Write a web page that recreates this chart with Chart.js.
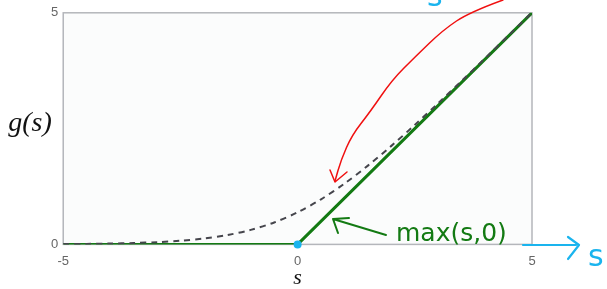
<!DOCTYPE html>
<html>
<head>
<meta charset="utf-8">
<script src="https://cdn.jsdelivr.net/npm/chart.js@4"></script>
<style>
  html, body { margin: 0; padding: 0; background: #fff; }
  #wrap { width: 607px; height: 289px; }
</style>
</head>
<body>
<div id="wrap"><canvas id="c" width="607" height="289"></canvas></div>
<script>
// values
const sValues = [-5, -4.5, -4, -3.5, -3, -2.5, -2, -1.5, -1, -0.5, 0, 0.5, 1, 1.5, 2, 2.5, 3, 3.5, 4, 4.5, 5];
const smoothValues = [0.007, 0.011, 0.018, 0.03, 0.049, 0.079, 0.127, 0.201, 0.313, 0.474, 0.693, 0.974, 1.313, 1.701, 2.127, 2.579, 3.049, 3.53, 4.018, 4.511, 5.007];
const reluS = [-5, -2.5, 0, 5];
const reluValues = [0, 0, 0, 5];
const xTicks = [-5, 0, 5];
const yTicks = [0, 5];

const toPoints = (xs, ys) => xs.map((x, i) => ({ x: x, y: ys[i] }));

// smooth stroke through a list of pixel points
const smoothPath = (ctx, pts) => {
    ctx.beginPath();
    ctx.moveTo(pts[0][0], pts[0][1]);
    for (let i = 1; i < pts.length - 1; i++) {
        const mx = (pts[i][0] + pts[i + 1][0]) / 2;
        const my = (pts[i][1] + pts[i + 1][1]) / 2;
        ctx.quadraticCurveTo(pts[i][0], pts[i][1], mx, my);
    }
    const last = pts[pts.length - 1];
    ctx.lineTo(last[0], last[1]);
    ctx.stroke();
};

// hand drawn notes on top of the plot
const notesPlugin = {
    id: 'notes',
    beforeDatasetsDraw(chart) {
        const { ctx, chartArea: a } = chart;
        ctx.save();
        ctx.fillStyle = '#fbfcfc';
        ctx.fillRect(a.left, a.top, a.right - a.left, a.bottom - a.top);
        ctx.strokeStyle = '#b4b6bb';
        ctx.lineWidth = 1.5;
        ctx.strokeRect(a.left, a.top, a.right - a.left, a.bottom - a.top);
        ctx.restore();
    },
    afterDraw(chart) {
        const { ctx } = chart;
        const xs = chart.scales.x, ys = chart.scales.y;
        ctx.save();

        // axis titles
        ctx.fillStyle = '#111';
        ctx.textAlign = 'center';
        ctx.textBaseline = 'middle';
        ctx.font = 'italic 28px "Liberation Serif", serif';
        ctx.fillText('g(s)', 30, 124);
        ctx.font = 'italic 22px "Liberation Serif", serif';
        ctx.fillText('s', xs.getPixelForValue(0), 278);

        ctx.textAlign = 'left';
        ctx.textBaseline = 'alphabetic';
        ctx.lineCap = 'round';
        ctx.lineJoin = 'round';

        // red arrow
        ctx.strokeStyle = '#f01010';
        ctx.lineWidth = 1.5;
        smoothPath(ctx, [[503, 0], [470, 12], [443, 30], [415, 57], [392, 80], [370, 112], [352, 135], [341, 160], [335, 181]]);
        ctx.beginPath();
        ctx.moveTo(330, 170);
        ctx.lineTo(335, 182);
        ctx.lineTo(347, 172);
        ctx.stroke();

        // green label with arrow
        ctx.strokeStyle = '#137a13';
        ctx.fillStyle = '#137a13';
        ctx.lineWidth = 2;
        ctx.beginPath();
        ctx.moveTo(386, 235);
        ctx.lineTo(333, 219);
        ctx.moveTo(333, 219);
        ctx.lineTo(349, 218);
        ctx.moveTo(333, 219);
        ctx.lineTo(338, 233);
        ctx.stroke();
        ctx.font = '25px "DejaVu Sans", sans-serif';
        ctx.fillText('max(s,0)', 396, 241);

        // blue marks
        ctx.strokeStyle = '#1ab4ee';
        ctx.fillStyle = '#1ab4ee';
        ctx.beginPath();
        ctx.arc(xs.getPixelForValue(0), ys.getPixelForValue(0), 4, 0, Math.PI * 2);
        ctx.fill();
        ctx.lineWidth = 2.2;
        ctx.beginPath();
        ctx.moveTo(523, 245);
        ctx.lineTo(576, 245);
        ctx.moveTo(568, 237);
        ctx.lineTo(579, 245);
        ctx.lineTo(568, 259);
        ctx.stroke();
        ctx.font = '30px "DejaVu Sans", sans-serif';
        ctx.fillText('s', 588, 266);
        ctx.fillText('s', 427, 6);
        ctx.restore();
    }
};

new Chart(document.getElementById('c'), {
    type: 'line',
    data: {
        datasets: [
            {
                label: 'smooth',
                data: toPoints(sValues, smoothValues),
                borderColor: '#45454c',
                borderWidth: 2,
                borderDash: [6, 5],
                pointRadius: 0,
                tension: 0.3
            },
            {
                label: 'max(s,0)',
                data: toPoints(reluS, reluValues),
                borderColor: '#137a13',
                borderWidth: 3,
                pointRadius: 0,
                tension: 0
            }
        ]
    },
    options: {
        responsive: false,
        animation: false,
        layout: { padding: { left: 46, right: 75, top: 6, bottom: 11 } },
        plugins: { legend: { display: false }, tooltip: { enabled: false } },
        scales: {
            x: {
                type: 'linear',
                min: -5,
                max: 5,
                afterBuildTicks: (axis) => { axis.ticks = xTicks.map(v => ({ value: v })); },
                grid: { display: false, drawTicks: false },
                border: { display: false },
                ticks: { color: '#666', font: { family: 'Liberation Sans', size: 13 }, padding: 9 }
            },
            y: {
                min: 0,
                max: 5,
                afterBuildTicks: (axis) => { axis.ticks = yTicks.map(v => ({ value: v })); },
                grid: { display: false, drawTicks: false },
                border: { display: false },
                ticks: { color: '#666', font: { family: 'Liberation Sans', size: 13 }, padding: 5 }
            }
        }
    },
    plugins: [notesPlugin]
});
</script>
</body>
</html>
